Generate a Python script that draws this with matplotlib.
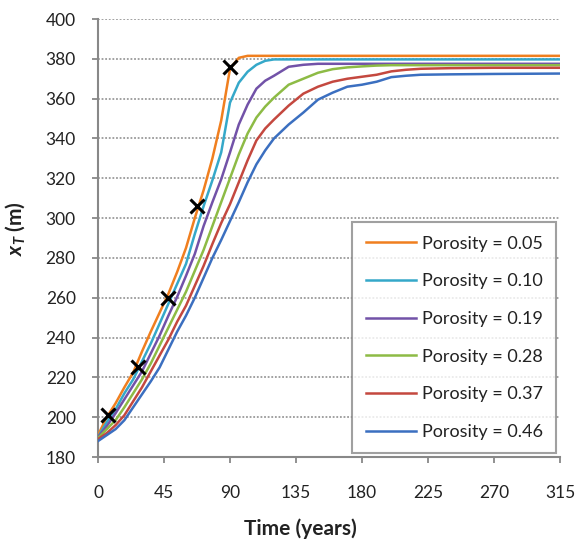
import matplotlib
matplotlib.use("Agg")
import matplotlib.pyplot as plt

plt.rcParams['font.family'] = ['Lato', 'DejaVu Sans']
plt.rcParams['mathtext.fontset'] = 'custom'
plt.rcParams['mathtext.it'] = 'Lato:italic:bold'
plt.rcParams['mathtext.rm'] = 'Lato:bold'

time_years = [0, 6, 12, 18, 24, 30, 36, 42, 48, 54, 60, 66, 72, 78, 84, 90, 96, 102,
              108, 114, 120, 130, 140, 150, 160, 170, 180, 190, 200, 210, 220, 240, 270, 315]

xt_005 = [191, 200, 207, 215, 222.5, 233, 243, 252.5, 262, 273, 285, 300, 314, 330, 349, 375, 380.5, 381.5,
          381.5, 381.5, 381.5, 381.5, 381.5, 381.5, 381.5, 381.5, 381.5, 381.5, 381.5, 381.5, 381.5, 381.5, 381.5, 381.5]
xt_010 = [190, 197.5, 204, 212, 219, 228, 237, 247, 257, 267, 277, 292, 306, 319, 333, 358, 368, 373.5,
          377, 379, 379.7, 379.7, 379.7, 379.7, 379.7, 379.7, 379.7, 379.7, 379.7, 379.7, 379.7, 379.7, 379.7, 379.7]
xt_019 = [190, 195.5, 202, 209, 216, 223, 232, 241, 251, 260.5, 271, 282, 296, 308, 319.5, 333, 347, 357,
          365, 369, 371.5, 376, 377, 377.5, 377.5, 377.5, 377.5, 377.5, 377.5, 377.5, 377.5, 377.5, 377.5, 377.5]
xt_028 = [189.5, 194, 198.5, 205, 212, 219, 227, 236, 245, 254, 263, 273.5, 284, 296, 308, 320, 332, 342.5,
          350.5, 356, 360.5, 367, 370, 373, 374.8, 375.7, 376.2, 376.6, 376.8, 376.8, 376.8, 376.8, 376.8, 376.8]
xt_037 = [189, 192, 196, 201, 208, 215, 223, 231, 239, 248, 256, 266, 276, 287, 297.5, 307, 318, 329,
          339, 345, 349.5, 356.5, 362.5, 366, 368.5, 370, 371, 372, 373.7, 374.5, 375, 375.3, 375.5, 375.5]
xt_046 = [188, 191, 194, 198.5, 205, 211.5, 218, 225, 234, 243, 251, 260, 270, 280, 289, 298.5, 308, 318,
          327, 334, 340, 347, 353, 359.5, 363, 366, 367, 368.5, 370.8, 371.5, 372, 372.2, 372.4, 372.6]

series_labels = ["Porosity = 0.05", "Porosity = 0.10", "Porosity = 0.19",
                 "Porosity = 0.28", "Porosity = 0.37", "Porosity = 0.46"]
series_colors = ["#F07F1F", "#35A8C9", "#7252A8", "#8DBB45", "#C4483F", "#3B6FC0"]

marker_time = [7, 27.5, 48, 67.5, 90]
marker_xt = [201, 225, 260, 306, 376]

x_ticks = [0, 45, 90, 135, 180, 225, 270, 315]
y_ticks = [180, 200, 220, 240, 260, 280, 300, 320, 340, 360, 380, 400]

fig = plt.figure(figsize=(5.75, 5.41), dpi=100)
ax = fig.add_axes([98 / 575, 1 - 457 / 541, (560 - 98) / 575, (457 - 19) / 541])

for ys, lab, col in zip([xt_005, xt_010, xt_019, xt_028, xt_037, xt_046], series_labels, series_colors):
    ax.plot(time_years, ys, color=col, lw=1.8, label=lab, zorder=3)

ax.plot(marker_time, marker_xt, linestyle='none', marker='x', color='black',
        markersize=10, markeredgewidth=2.2, zorder=5)

ax.set_xlim(0, 315)
ax.set_ylim(180, 400)
ax.set_xticks(x_ticks)
ax.set_yticks(y_ticks)

for y in y_ticks[1:]:
    ax.axhline(y, color='#9a9a9a', lw=1.3, ls=(0, (1, 1)), zorder=1)

for s in ['top', 'right']:
    ax.spines[s].set_visible(False)
for s in ['left', 'bottom']:
    ax.spines[s].set_color('#888888')
    ax.spines[s].set_linewidth(1.5)

ax.tick_params(axis='both', direction='out', length=4, width=1.3, color='#888888',
               labelsize=12.5, labelcolor='#222222')
ax.tick_params(axis='x', pad=16)
ax.tick_params(axis='y', pad=12)

fig.text(300 / 575, 1 - 529 / 541, "Time (years)", ha='center', va='center',
         fontsize=15, fontweight='bold', color='#222222')
fig.text(15 / 575, 1 - 229 / 541, r"$x_T$ (m)", ha='center', va='center',
         rotation=90, fontsize=15, fontweight='bold', color='#222222')

leg = ax.legend(loc='upper left', bbox_to_anchor=((352 - 98) / 462, (457 - 222) / 438),
                frameon=True, fancybox=False, edgecolor='#888888', fontsize=13,
                handlelength=2.8, handletextpad=0.3, labelspacing=1.2,
                borderpad=0.75, borderaxespad=0)
leg.get_frame().set_linewidth(1.5)
for t in leg.get_texts():
    t.set_color('#222222')

fig.savefig("out.png", dpi=100)
